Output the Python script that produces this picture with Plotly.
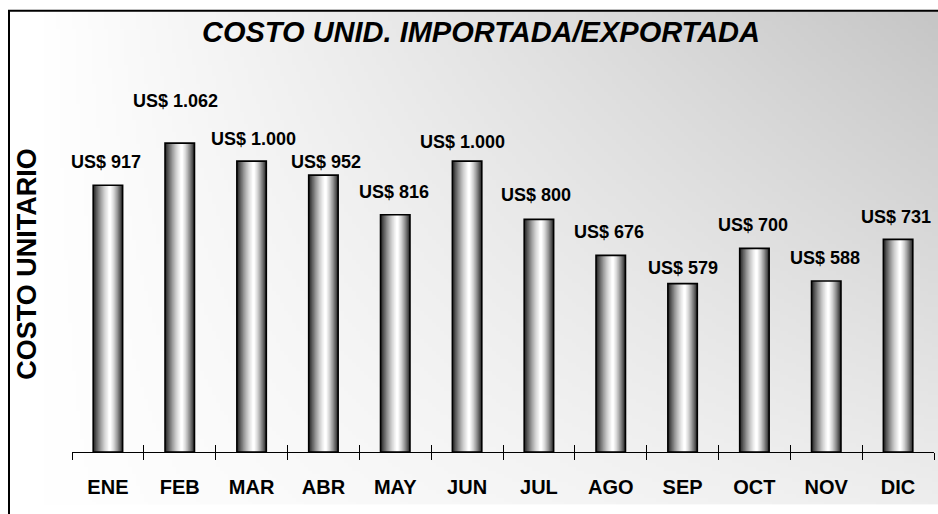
import base64, struct, zlib
import numpy as np
import plotly.graph_objects as go

# ---------------- data ----------------
months = ["ENE", "FEB", "MAR", "ABR", "MAY", "JUN", "JUL", "AGO", "SEP", "OCT", "NOV", "DIC"]
costs = [917, 1062, 1000, 952, 816, 1000, 800, 676, 579, 700, 588, 731]
title_text = "COSTO UNID. IMPORTADA/EXPORTADA"
ytitle_text = "COSTO UNITARIO"

# label placement tweaks (pixels)
label_dy = [22, 41, 21, 12, 22, 18, 23, 22, 15, 22, 22, 21]
label_dx = [-1.5, -4, 1.5, 2.5, -1.5, -5, -3, -1.5, 0, -1.5, -1.5, -2.5]

# ---------------- geometry ----------------
W, H = 938, 514
L, R = 72, 4
T, B = 102.5, 61.5
pw, ph = W - L - R, H - T - B
YMAX = 1200
FONT = "Liberation Sans, Arial, sans-serif"


def px_to_paper_x(px):
    return (px - L) / pw


def px_to_paper_y(py):
    return (H - B - py) / ph


# ---------------- background gradient PNG ----------------
def gray_png(arr):
    h, w = arr.shape
    raw = b"".join(b"\x00" + arr[i].tobytes() for i in range(h))

    def chunk(tag, data):
        c = struct.pack(">I", len(data)) + tag + data
        return c + struct.pack(">I", zlib.crc32(tag + data) & 0xFFFFFFFF)

    png = b"\x89PNG\r\n\x1a\n"
    png += chunk(b"IHDR", struct.pack(">IIBBBBB", w, h, 8, 0, 0, 0, 0))
    png += chunk(b"IDAT", zlib.compress(raw, 9))
    png += chunk(b"IEND", b"")
    return "data:image/png;base64," + base64.b64encode(png).decode()


gw, gh = 224, 124
u = np.linspace(0, 1, gw)[None, :]
v = np.linspace(1, 0, gh)[:, None]
f = u * (0.3 + 0.7 * v)
grad = np.clip(255 - 57 * f, 0, 255).astype(np.uint8)
bg_src = gray_png(grad)

# ---------------- bars (cylindrical shading via nested layers) ----------------
bw = 0.41
tc, s_edge, K, expo = 0.57, 0.12, 20, 1.4
fig = go.Figure()
levels = np.linspace(s_edge, 1.0, K)
for k, lev in enumerate(levels):
    r = ((1 - lev) / (1 - s_edge)) ** (1 / expo)
    r = max(r, 0.07)
    tl = tc - tc * r
    tr = tc + (1 - tc) * r
    nxt = levels[min(k + 1, K - 1)]
    g = int(round(255 * (lev + nxt) / 2))
    fig.add_trace(go.Bar(
        x=months, y=costs, width=(tr - tl) * bw, offset=-bw / 2 + tl * bw,
        marker=dict(color=f"rgb({g},{g},{g})", line=dict(width=0)),
        xaxis="x", yaxis="y", showlegend=False, hoverinfo="skip",
    ))

# outline on overlaid axis (also provides the inside half of tick marks)
fig.add_trace(go.Bar(
    x=months, y=costs, width=bw, offset=-bw / 2,
    marker=dict(color="rgba(0,0,0,0)", line=dict(color="black", width=1.6)),
    xaxis="x2", yaxis="y", showlegend=False, hoverinfo="skip",
))

# value labels
annotations = []
for m, c, dy, dx in zip(months, costs, label_dy, label_dx):
    annotations.append(dict(
        x=m, y=c, xref="x", yref="y", text=f"US$ {c:,}".replace(",", "."),
        showarrow=False, yanchor="middle", xanchor="center", yshift=dy + 1, xshift=dx,
        font=dict(family=FONT, size=18, color="black", weight="bold"),
    ))

# y-axis title
annotations.append(dict(
    x=px_to_paper_x(27), y=px_to_paper_y(382), xref="paper", yref="paper",
    text=ytitle_text, textangle=-90, showarrow=False, xanchor="center", yanchor="bottom",
    font=dict(family=FONT, size=27, color="black", weight="bold"),
))

fig.update_layout(
    width=W, height=H,
    margin=dict(l=L, r=R, t=T, b=B, pad=0),
    paper_bgcolor="white", plot_bgcolor="rgba(0,0,0,0)",
    barmode="overlay", hovermode=False, showlegend=False,
    title=dict(
        text=title_text, x=481 / W, xref="container", xanchor="center",
        y=1 - 32 / H, yref="container", yanchor="middle",
        font=dict(family=FONT, size=29, color="black", weight="bold", style="italic"),
    ),
    xaxis=dict(
        type="category", range=[-0.5, 11.5], showgrid=False, zeroline=False,
        showline=True, linecolor="black", linewidth=1,
        ticks="outside", tickson="boundaries", ticklen=7, tickwidth=1, tickcolor="black",
        ticklabelstandoff=17,
        tickfont=dict(family=FONT, size=20, color="black", weight="bold"),
    ),
    xaxis2=dict(
        type="category", range=[-0.5, 11.5], overlaying="x", anchor="y", side="bottom",
        showgrid=False, zeroline=False, showline=False,
        ticks="inside", tickson="boundaries", ticklen=7, tickwidth=1, tickcolor="black",
        showticklabels=False,
    ),
    yaxis=dict(range=[0, YMAX], visible=False, showgrid=False, zeroline=False),
    images=[dict(
        source=bg_src, xref="paper", yref="paper",
        x=px_to_paper_x(42), y=px_to_paper_y(10),
        sizex=(W - 42) / pw, sizey=(505 - 10) / ph,
        xanchor="left", yanchor="top", sizing="stretch", layer="below",
    )],
    shapes=[dict(
        type="rect", xref="paper", yref="paper",
        x0=px_to_paper_x(9), x1=px_to_paper_x(W + 5),
        y0=px_to_paper_y(H + 5), y1=px_to_paper_y(10),
        line=dict(color="black", width=2), fillcolor="rgba(0,0,0,0)", layer="above",
    )],
    annotations=annotations,
)

fig.write_html(
    "out.html",
    config={"displayModeBar": False, "staticPlot": True},
    post_script="document.body.style.margin='0';document.body.style.overflow='hidden';",
)
